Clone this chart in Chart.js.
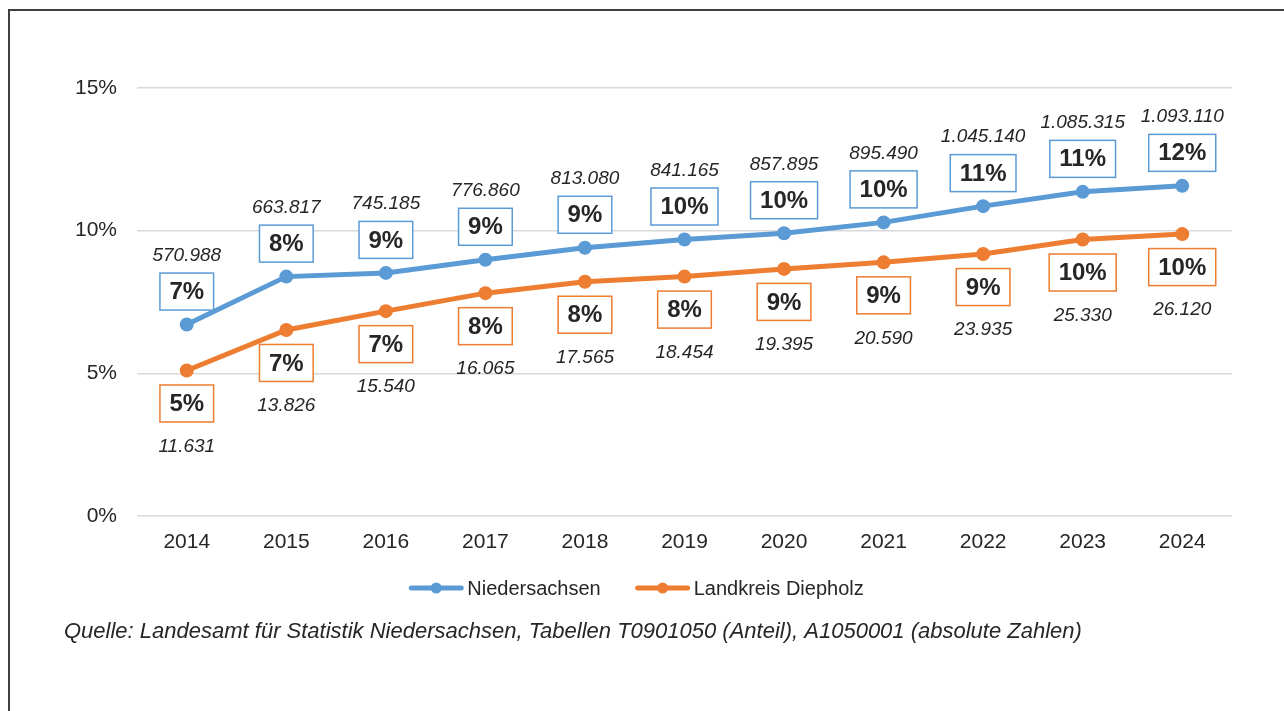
<!DOCTYPE html>
<html>
<head>
<meta charset="utf-8">
<script src="https://cdn.jsdelivr.net/npm/chart.js@4/dist/chart.umd.min.js"></script>
<style>
  html, body { margin: 0; padding: 0; background: #fff; }
  #wrap { position: relative; width: 1284px; height: 711px; }
</style>
</head>
<body>
<div id="wrap"><canvas id="c" width="1284" height="711"></canvas></div>
<script>
// ---- data ----
const years = ['2014','2015','2016','2017','2018','2019','2020','2021','2022','2023','2024'];
const niedersachsenPct = [6.71, 8.39, 8.52, 8.98, 9.40, 9.69, 9.91, 10.29, 10.86, 11.36, 11.57];
const diepholzPct      = [5.10, 6.52, 7.18, 7.81, 8.21, 8.39, 8.66, 8.89, 9.18, 9.69, 9.88];
const niedersachsenAbs = [570988, 663817, 745185, 776860, 813080, 841165, 857895, 895490, 1045140, 1085315, 1093110];
const diepholzAbs      = [11631, 13826, 15540, 16065, 17565, 18454, 19395, 20590, 23935, 25330, 26120];
const seriesNames = ['Niedersachsen', 'Landkreis Diepholz'];
const yTicks = [0, 5, 10, 15];
const sourceText = 'Quelle: Landesamt für Statistik Niedersachsen, Tabellen T0901050 (Anteil), A1050001 (absolute Zahlen)';

// ---- styles ----
const BLUE = '#5b9bd5';
const ORANGE = '#ed7d31';
const TXT = '#262626';
const FONT = '"Liberation Sans", Arial, sans-serif';

function fmtDE(n) {
  return String(n).replace(/\B(?=(\d{3})+(?!\d))/g, '.');
}

const decorPlugin = {
  id: 'decor',
  beforeDraw(chart) {
    const ctx = chart.ctx;
    ctx.save();
    ctx.fillStyle = '#fff';
    ctx.fillRect(0, 0, chart.width, chart.height);
    ctx.strokeStyle = '#404040';
    ctx.lineWidth = 2;
    ctx.beginPath();
    ctx.moveTo(9, 800);
    ctx.lineTo(9, 10);
    ctx.lineTo(1300, 10);
    ctx.stroke();
    ctx.restore();
  },
  afterDatasetsDraw(chart) {
    const ctx = chart.ctx;
    const absList = [niedersachsenAbs, diepholzAbs];
    chart.data.datasets.forEach((ds, di) => {
      const meta = chart.getDatasetMeta(di);
      const dir = di === 0 ? -1 : 1;
      meta.data.forEach((pt, i) => {
        const label = Math.round(ds.data[i]) + '%';
        const cx = pt.x;
        const by = pt.y + dir * 33;
        ctx.save();
        ctx.font = 'bold 24px ' + FONT;
        const tw = ctx.measureText(label).width;
        const bw = tw + 19, bh = 37;
        ctx.fillStyle = '#fff';
        ctx.fillRect(cx - bw / 2, by - bh / 2, bw, bh);
        ctx.strokeStyle = ds.borderColor;
        ctx.lineWidth = 1.5;
        ctx.strokeRect(cx - bw / 2, by - bh / 2, bw, bh);
        ctx.fillStyle = TXT;
        ctx.textAlign = 'center';
        ctx.textBaseline = 'middle';
        ctx.fillText(label, cx, by + 1);
        ctx.font = 'italic 19px ' + FONT;
        const ny = by + dir * (di === 0 ? 36 : 43);
        ctx.fillText(fmtDE(absList[di][i]), cx, ny);
        ctx.restore();
      });
    });
  },
  afterDraw(chart) {
    const ctx = chart.ctx;
    ctx.save();
    // legend
    ctx.font = '20px ' + FONT;
    const items = chart.data.datasets.map(d => ({ name: d.label, color: d.borderColor, w: ctx.measureText(d.label).width }));
    const lineLen = 54, gapTxt = 4, gapItem = 35;
    let total = 0;
    items.forEach((it, k) => { total += lineLen + gapTxt + it.w + (k < items.length - 1 ? gapItem : 0); });
    let x = 636.5 - total / 2;
    const ly = 588;
    items.forEach(it => {
      ctx.strokeStyle = it.color;
      ctx.lineWidth = 5;
      ctx.lineCap = 'round';
      ctx.beginPath();
      ctx.moveTo(x + 2, ly);
      ctx.lineTo(x + lineLen - 2, ly);
      ctx.stroke();
      ctx.fillStyle = it.color;
      ctx.beginPath();
      ctx.arc(x + lineLen / 2, ly, 5.5, 0, Math.PI * 2);
      ctx.fill();
      ctx.fillStyle = TXT;
      ctx.textAlign = 'left';
      ctx.textBaseline = 'middle';
      ctx.fillText(it.name, x + lineLen + gapTxt, ly + 1);
      x += lineLen + gapTxt + it.w + gapItem;
    });
    // source
    ctx.font = 'italic 22px ' + FONT;
    ctx.fillStyle = TXT;
    ctx.textAlign = 'left';
    ctx.textBaseline = 'middle';
    ctx.fillText(sourceText, 64, 632);
    ctx.restore();
  }
};

new Chart(document.getElementById('c'), {
  type: 'line',
  data: {
    labels: years,
    datasets: [
      { label: seriesNames[0], data: niedersachsenPct, borderColor: BLUE, backgroundColor: BLUE,
        borderWidth: 5, pointRadius: 7, pointBorderWidth: 0, pointBackgroundColor: BLUE, tension: 0 },
      { label: seriesNames[1], data: diepholzPct, borderColor: ORANGE, backgroundColor: ORANGE,
        borderWidth: 5, pointRadius: 7, pointBorderWidth: 0, pointBackgroundColor: ORANGE, tension: 0 }
    ]
  },
  options: {
    responsive: false,
    animation: false,
    devicePixelRatio: 1,
    layout: { padding: { left: 0, right: 52, top: 88, bottom: 0 } },
    plugins: { legend: { display: false }, tooltip: { enabled: false } },
    scales: {
      x: {
        offset: true,
        grid: { display: false, drawTicks: false },
        border: { display: false },
        ticks: { color: TXT, font: { family: FONT, size: 21 }, padding: 14 },
        afterFit: s => { s.height = 711 - 516 - 0; }
      },
      y: {
        min: 0, max: 15,
        afterBuildTicks: s => { s.ticks = yTicks.map(v => ({ value: v })); },
        grid: { color: '#d9d9d9', lineWidth: 1.5, drawTicks: false },
        border: { display: false },
        ticks: { color: TXT, font: { family: FONT, size: 21 }, padding: 20, callback: v => v + '%' },
        afterFit: s => { s.width = 137; }
      }
    }
  },
  plugins: [decorPlugin]
});
</script>
</body>
</html>
